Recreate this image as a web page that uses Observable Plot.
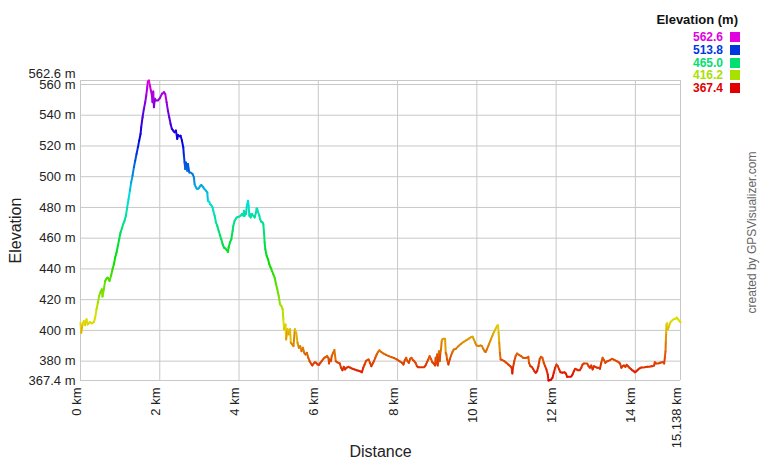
<!DOCTYPE html>
<html><head><meta charset="utf-8">
<script src="https://cdn.jsdelivr.net/npm/d3@7"></script>
<script src="https://cdn.jsdelivr.net/npm/@observablehq/plot@0.6"></script>
<style>
body{margin:0;background:#fff;font-family:"Liberation Sans",Arial,sans-serif;}
#wrap{position:relative;width:760px;height:460px;overflow:hidden;}
#legend-title{position:absolute;right:22px;top:13px;font:bold 13px/13px "Liberation Sans",Arial,sans-serif;color:#111;white-space:nowrap;}
.lrow{position:absolute;right:20px;height:12px;display:flex;align-items:center;}
.lrow span{font:bold 12px/12px "Liberation Sans",Arial,sans-serif;margin-right:7px;}
.lrow i{display:inline-block;width:10px;height:10px;}
g[aria-label="x-tick-labels"] text{letter-spacing:1px;}
</style></head><body><div id="wrap"></div>
<script>
// [distance km, elevation m]
const track = [
[0.000,405.0],[0.017,398.5],[0.051,403.9],[0.084,406.1],[0.118,403.3],[0.152,407.2],[0.185,403.9],[0.236,405.4],[0.286,404.6],[0.337,405.4],
[0.370,408.3],[0.404,413.7],[0.438,418.0],[0.471,422.4],[0.505,425.0],[0.539,426.7],[0.556,422.0],[0.589,426.7],[0.623,432.2],[0.657,433.7],
[0.690,434.3],[0.732,432.2],[0.774,435.9],[0.808,439.8],[0.842,443.0],[0.875,447.4],[0.909,450.7],[0.943,455.0],[0.976,459.3],[1.010,463.7],
[1.044,466.3],[1.077,469.1],[1.111,471.3],[1.145,474.6],[1.178,480.0],[1.212,485.4],[1.246,490.9],[1.279,496.3],[1.313,500.7],[1.347,506.1],
[1.380,510.4],[1.414,514.8],[1.448,519.1],[1.481,523.5],[1.515,527.8],[1.532,532.2],[1.566,538.7],[1.599,544.1],[1.633,548.5],[1.658,552.8],
[1.684,558.3],[1.700,562.0],[1.726,562.6],[1.751,559.3],[1.776,556.1],[1.801,552.8],[1.818,548.5],[1.835,555.4],[1.852,545.2],[1.877,550.7],
[1.902,549.6],[1.953,549.6],[2.003,551.1],[2.054,553.9],[2.104,555.0],[2.138,553.9],[2.172,548.5],[2.205,543.0],[2.239,538.7],[2.273,534.3],
[2.306,531.1],[2.340,530.0],[2.374,528.9],[2.407,530.0],[2.441,524.6],[2.458,527.2],[2.492,526.3],[2.525,526.7],[2.559,523.5],[2.593,519.1],
[2.609,513.7],[2.626,509.3],[2.643,505.0],[2.660,509.3],[2.694,503.9],[2.710,508.3],[2.744,502.8],[2.778,502.8],[2.828,501.7],[2.862,499.6],
[2.879,495.2],[2.912,493.0],[2.946,492.0],[2.980,492.4],[3.014,493.7],[3.047,494.6],[3.081,493.7],[3.114,492.4],[3.165,490.9],[3.199,489.8],
[3.215,484.3],[3.249,483.7],[3.266,482.2],[3.300,481.5],[3.333,480.0],[3.350,477.8],[3.384,474.6],[3.418,470.2],[3.451,468.0],[3.485,464.8],
[3.519,462.0],[3.552,459.3],[3.586,456.1],[3.620,453.9],[3.653,453.3],[3.687,452.4],[3.721,451.1],[3.737,453.9],[3.771,457.2],[3.805,459.3],
[3.838,464.8],[3.855,468.0],[3.889,471.3],[3.923,472.8],[3.956,473.7],[4.007,474.1],[4.040,474.6],[4.074,475.7],[4.108,474.6],[4.125,477.8],
[4.141,474.6],[4.158,476.7],[4.175,475.7],[4.192,480.0],[4.209,482.2],[4.226,484.3],[4.242,481.1],[4.259,474.6],[4.276,475.7],[4.293,473.5],
[4.327,475.7],[4.360,474.6],[4.394,473.5],[4.428,476.7],[4.444,479.3],[4.461,478.9],[4.478,477.2],[4.512,474.6],[4.529,472.4],[4.562,470.7],
[4.596,470.2],[4.613,469.1],[4.630,463.7],[4.646,457.2],[4.663,452.8],[4.697,448.5],[4.731,446.3],[4.764,443.0],[4.798,440.9],[4.832,438.7],
[4.865,436.5],[4.899,434.3],[4.933,430.0],[4.966,426.7],[5.000,422.4],[5.034,417.0],[5.067,415.9],[5.101,413.7],[5.118,407.2],[5.135,400.7],
[5.171,403.9],[5.188,394.1],[5.222,400.7],[5.256,397.4],[5.289,400.7],[5.306,392.0],[5.340,390.9],[5.374,389.8],[5.408,400.7],[5.442,398.5],
[5.475,392.0],[5.509,388.7],[5.543,389.8],[5.577,386.5],[5.611,388.7],[5.645,385.4],[5.679,384.3],[5.712,385.4],[5.746,382.2],[5.780,380.0],
[5.814,378.5],[5.848,377.2],[5.882,378.5],[5.915,379.3],[5.949,378.9],[5.983,377.8],[6.017,377.6],[6.051,378.9],[6.085,380.0],[6.118,381.1],
[6.152,382.2],[6.186,382.6],[6.220,383.3],[6.254,382.2],[6.271,378.5],[6.288,381.1],[6.321,380.0],[6.338,383.3],[6.372,385.4],[6.406,387.2],
[6.440,380.0],[6.474,379.3],[6.508,378.9],[6.541,378.5],[6.575,375.7],[6.609,374.1],[6.643,376.3],[6.677,374.6],[6.711,375.7],[6.761,376.3],
[6.812,375.7],[6.863,375.0],[6.914,374.6],[6.964,374.1],[7.015,373.7],[7.066,373.3],[7.100,372.8],[7.134,375.7],[7.167,377.8],[7.201,380.0],
[7.235,380.7],[7.269,381.1],[7.303,378.9],[7.337,376.7],[7.371,378.5],[7.404,380.0],[7.438,382.2],[7.472,384.3],[7.506,385.9],[7.540,387.0],
[7.590,385.9],[7.641,385.0],[7.709,384.1],[7.777,383.3],[7.844,382.6],[7.912,382.0],[7.980,381.1],[8.047,380.0],[8.115,378.9],[8.149,377.8],
[8.183,380.7],[8.217,382.2],[8.250,380.0],[8.284,378.9],[8.318,381.5],[8.352,382.2],[8.386,380.7],[8.420,380.0],[8.453,378.9],[8.487,376.7],
[8.521,376.1],[8.572,376.1],[8.623,376.1],[8.673,376.1],[8.707,377.2],[8.741,379.3],[8.775,381.1],[8.809,383.3],[8.843,381.5],[8.876,379.3],
[8.910,378.5],[8.944,377.2],[8.961,382.2],[8.978,378.5],[8.995,384.3],[9.012,377.2],[9.029,384.3],[9.046,386.5],[9.063,380.0],[9.079,385.4],
[9.096,387.6],[9.113,393.0],[9.130,394.1],[9.164,394.6],[9.198,394.6],[9.215,385.4],[9.232,384.3],[9.249,381.1],[9.282,377.8],[9.316,381.1],
[9.350,383.7],[9.384,385.9],[9.418,387.6],[9.469,388.0],[9.536,389.8],[9.604,391.3],[9.672,392.6],[9.739,393.7],[9.807,394.8],[9.858,395.7],
[9.892,395.9],[9.925,394.1],[9.959,392.0],[9.993,390.2],[10.044,389.8],[10.095,390.2],[10.128,389.8],[10.162,388.0],[10.196,386.5],
[10.219,385.9],[10.253,387.6],[10.304,390.9],[10.354,394.1],[10.405,397.4],[10.456,400.2],[10.506,402.8],[10.532,403.3],[10.549,398.5],[10.565,392.0],
[10.582,385.4],[10.599,381.1],[10.641,380.7],[10.692,380.0],[10.743,378.9],[10.793,377.8],[10.844,376.7],[10.878,375.7],[10.895,372.0],[10.911,375.7],
[10.945,380.0],[10.979,383.3],[11.013,385.0],[11.063,384.1],[11.114,383.3],[11.165,382.2],[11.215,382.0],[11.266,382.2],[11.300,382.8],[11.316,378.9],
[11.350,376.7],[11.384,376.3],[11.418,375.0],[11.451,373.5],[11.485,372.4],[11.519,373.5],[11.553,376.7],[11.586,381.5],[11.620,382.8],[11.654,382.2],
[11.688,378.9],[11.722,376.7],[11.755,374.6],[11.789,371.3],[11.806,367.4],[11.840,367.6],[11.873,368.0],[11.907,369.1],[11.941,372.4],[11.975,375.7],
[12.008,377.8],[12.042,376.7],[12.076,374.6],[12.110,372.8],[12.160,372.4],[12.211,372.8],[12.245,372.0],[12.278,369.8],[12.329,369.8],[12.380,369.8],
[12.414,371.3],[12.447,373.5],[12.481,375.0],[12.515,374.6],[12.549,374.1],[12.599,374.1],[12.633,375.7],[12.667,377.8],[12.700,378.5],[12.751,378.5],
[12.785,378.5],[12.819,376.7],[12.852,375.7],[12.886,377.2],[12.920,374.6],[12.954,376.7],[12.987,376.3],[13.038,375.7],[13.072,375.7],[13.106,375.0],
[13.139,378.9],[13.173,382.2],[13.207,380.7],[13.241,378.9],[13.274,379.8],[13.308,380.0],[13.359,380.7],[13.409,381.5],[13.443,381.1],[13.477,380.7],
[13.527,380.0],[13.578,379.3],[13.612,378.5],[13.646,375.7],[13.679,376.7],[13.713,377.2],[13.747,376.3],[13.781,377.6],[13.814,376.7],[13.848,375.7],
[13.882,375.0],[13.916,374.1],[13.949,373.7],[13.983,372.8],[14.017,373.3],[14.051,374.1],[14.084,375.0],[14.118,375.4],[14.152,375.9],[14.203,375.9],
[14.253,376.1],[14.304,376.3],[14.354,376.3],[14.405,376.7],[14.439,376.7],[14.473,377.2],[14.489,379.3],[14.523,378.5],[14.574,378.5],[14.625,378.9],
[14.675,379.3],[14.709,379.3],[14.726,378.5],[14.743,382.2],[14.760,386.5],[14.768,393.0],[14.777,398.5],[14.785,403.9],[14.802,404.6],[14.819,400.7],
[14.844,402.4],[14.878,405.0],[14.911,406.1],[14.962,407.2],[15.013,407.6],[15.046,408.3],[15.080,407.2],[15.114,406.1],[15.138,405.4]
];
const elevMin = 367.4, elevMax = 562.6, distMax = 15.138;
const yTicks = [380, 400, 420, 440, 460, 480, 500, 520, 540, 560];
const xTicks = [0, 2, 4, 6, 8, 10, 12, 14, 15.138];
const legendValues = [562.6, 513.8, 465.0, 416.2, 367.4];
const legendTitle = "Elevation (m)";
const xTitle = "Distance", yTitle = "Elevation", credit = "created by GPSVisualizer.com";

const hueRamp = t => d3.hsl(300 * Math.max(0, Math.min(1, t)), 1, 0.44).formatHex();
const font = '"Liberation Sans", Arial, sans-serif';
const gridStyle = {stroke: "#c8c8c8", strokeOpacity: 1, strokeWidth: 1};

const chart = Plot.plot({
  width: 760, height: 460,
  marginLeft: 80, marginRight: 80, marginTop: 80, marginBottom: 80,
  style: {fontFamily: font, fontSize: "13px", color: "#222", background: "#fff"},
  x: {domain: [0, distMax], axis: null},
  y: {domain: [elevMin, elevMax]},
  color: {type: "linear", domain: [elevMin, elevMax], range: [0, 1], interpolate: hueRamp},
  marks: [
    Plot.gridY([...yTicks, elevMin, elevMax], gridStyle),
    Plot.gridX(xTicks, gridStyle),
    Plot.line(track, {x: d => d[0], y: d => d[1], z: null, stroke: d => d[1], strokeWidth: 2}),
    Plot.axisY([elevMin, ...yTicks], {tickSize: 0, tickPadding: 5, label: null, fontSize: 13, fill: "#222", tickFormat: d => `${d} m`}),
    Plot.axisY([elevMax], {tickSize: 0, tickPadding: 5, label: null, fontSize: 13, fill: "#222", dy: -7, tickFormat: d => `${d} m`}),
    Plot.text(xTicks, {x: d => d, text: d => `${d} km`, frameAnchor: "bottom", rotate: -90, textAnchor: "end", dy: 7, fontSize: 13, fill: "#222", ariaLabel: "x-tick-labels"}),
    Plot.text([yTitle], {text: d => d, frameAnchor: "left", textAnchor: "middle", rotate: -90, dx: -65, fontSize: 16, fill: "#222"}),
    Plot.text([xTitle], {text: d => d, frameAnchor: "bottom", textAnchor: "middle", dy: 76, fontSize: 16, fill: "#222"}),
    Plot.text([credit], {text: d => d, frameAnchor: "right", textAnchor: "middle", rotate: -90, dx: 72, dy: 2, fontSize: 12, fill: "#666"})
  ]
});
const wrap = document.getElementById("wrap");
wrap.appendChild(chart);

const t = document.createElement("div");
t.id = "legend-title"; t.textContent = legendTitle; wrap.appendChild(t);
legendValues.forEach((v, i) => {
  const row = document.createElement("div");
  row.className = "lrow";
  row.style.top = (31 + i * 12.8) + "px";
  const c = hueRamp((v - elevMin) / (elevMax - elevMin));
  const s = document.createElement("span");
  s.textContent = v.toFixed(1); s.style.color = c;
  const sq = document.createElement("i"); sq.style.background = c;
  row.appendChild(s); row.appendChild(sq);
  wrap.appendChild(row);
});
</script></body></html>
